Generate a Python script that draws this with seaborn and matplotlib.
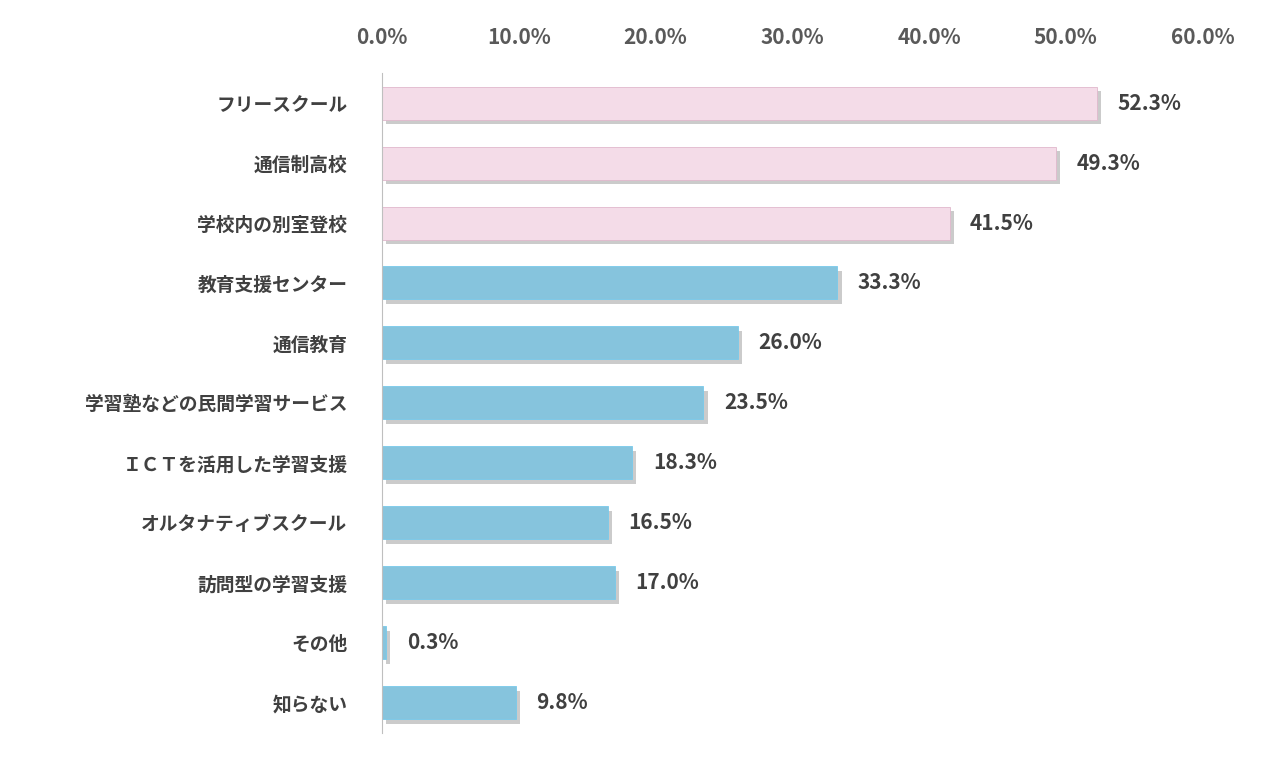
import matplotlib
matplotlib.use("Agg")
import matplotlib.pyplot as plt
import matplotlib.patheffects as pe
import seaborn as sns
import pandas as pd

categories = ["フリースクール", "通信制高校", "学校内の別室登校", "教育支援センター", "通信教育",
              "学習塾などの民間学習サービス", "ＩＣＴを活用した学習支援", "オルタナティブスクール",
              "訪問型の学習支援", "その他", "知らない"]
values = [52.3, 49.3, 41.5, 33.3, 26.0, 23.5, 18.3, 16.5, 17.0, 0.3, 9.8]
groups = ["pink"] * 3 + ["blue"] * 8
ticks = [0, 10, 20, 30, 40, 50, 60]

plt.rcParams["font.family"] = "Noto Sans CJK JP"
df = pd.DataFrame({"cat": categories, "val": values, "grp": groups})

fig = plt.figure(figsize=(12.82, 7.69), dpi=100)
ax = fig.add_axes([0.298, 0.047, 0.64, 0.858])
sns.barplot(data=df, y="cat", x="val", hue="grp", palette={"pink": "#F8D8E8", "blue": "#78CAEB"},
            dodge=False, width=0.55, ax=ax, legend=False, edgecolor="#E0B8CC", linewidth=0.6)
for p, g in zip(ax.patches, groups * 0 + [None] * len(ax.patches)):
    p.set_path_effects([pe.SimplePatchShadow(offset=(3, -3), shadow_rgbFace="#999999", alpha=0.5), pe.Normal()])
for p in ax.patches:
    if p.get_facecolor()[2] > 0.85 and p.get_facecolor()[0] < 0.6:
        p.set_edgecolor("#78CAEB")
for i, v in enumerate(values):
    ax.text(v + 1.5, i, f"{v:.1f}%", va="center", ha="left", fontsize=15, fontweight="bold", color="#404040")
ax.set_xlim(0, 60)
ax.set_ylim(10.5, -0.5)
ax.set_xticks(ticks)
ax.set_xticklabels([f"{t:.1f}%" for t in ticks])
ax.xaxis.tick_top()
ax.tick_params(axis="x", length=0, labelsize=15, labelcolor="#595959", pad=18)
ax.tick_params(axis="y", length=0, labelsize=13.5, labelcolor="#404040", pad=25)
for lab in ax.get_xticklabels() + ax.get_yticklabels():
    lab.set_fontweight("bold")
ax.set_xlabel("")
ax.set_ylabel("")
for s in ["top", "right", "bottom"]:
    ax.spines[s].set_visible(False)
ax.spines["left"].set_color("#BFBFBF")
fig.savefig("out.png", dpi=100)
